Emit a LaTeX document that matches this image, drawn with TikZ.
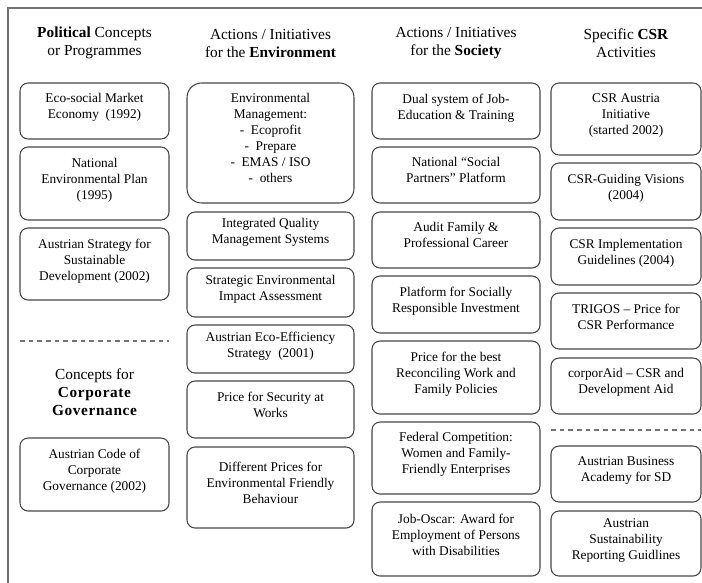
\documentclass[tikz,border=0pt]{standalone}
\usepackage{fontspec}
\setmainfont{Liberation Serif}
\tikzset{
  rbox/.style={draw=black!72, line width=0.8pt, rounded corners=6pt, fill=white,
    align=center, font=\fontsize{10}{12}\selectfont, inner sep=0pt, outer sep=0pt,
    text depth=7pt, anchor=center},
  bigr/.style={rounded corners=11pt},
  head/.style={align=center, font=\fontsize{11.5}{13.5}\selectfont, inner sep=0pt, anchor=center},
  sep/.style={draw=black!55, line width=0.8pt, dash pattern=on 3.5pt off 3pt},
  frame/.style={draw=black!55, line width=1.2pt}
}
\newcommand\mybox[7][]{\node[rbox,#1,minimum width={(#5-#3)*0.75pt},minimum height={(#6-#4)*0.75pt}] (#2) at ({(#3+#5)/2},{(#4+#6)/2}) {#7};}
\begin{document}
\begin{tikzpicture}[x=0.75pt,y=-0.75pt]
\useasboundingbox (0,0) rectangle (702,582);
% frame
\coordinate (fbl) at (8,583);
\coordinate (ftl) at (8,8);
\coordinate (ftr) at (703,8);
\draw[frame] (fbl) -- (ftl) -- (ftr);
% headers
\node[head] (h1) at (94.5,43) {\textbf{Political} Concepts\\or Programmes};
\node[head] (h2) at (270.5,43) {Actions / Initiatives\\for the \textbf{Environment}};
\node[head] (h3) at (456,43) {Actions / Initiatives\\for the \textbf{Society}};
\node[head] (h4) at (626,43) {Specific \textbf{CSR}\\Activities};
% column 1
\mybox{p1}{20}{83}{169}{139}{Eco-social Market\\Economy~~(1992)}
\mybox{p2}{20}{147}{169}{220}{National\\Environmental Plan\\(1995)}
\mybox{p3}{20}{228}{169}{300}{Austrian Strategy for\\Sustainable\\Development (2002)}
\coordinate (d1a) at (20,341);
\coordinate (d1b) at (169,341);
\draw[sep] (d1a) -- (d1b);
\node[head] (cg) at (94.5,392) {Concepts for\\{\bfseries\addfontfeature{LetterSpace=4}Corporate}\\{\bfseries\addfontfeature{LetterSpace=4}Governance}};
\mybox{p4}{20}{438}{169}{511}{Austrian Code of\\Corporate\\Governance (2002)}
% column 2
\mybox[bigr]{e1}{187}{83}{354}{203}{Environmental\\Management:\\-~~Ecoprofit\\-~~Prepare\\-~~EMAS / ISO\\-~~others}
\mybox{e2}{187}{212}{354}{260}{Integrated Quality\\Management Systems}
\mybox{e3}{187}{268}{354}{317}{Strategic Environmental\\Impact Assessment}
\mybox{e4}{187}{325}{354}{373}{Austrian Eco-Efficiency\\Strategy~~(2001)}
\mybox{e5}{187}{381}{354}{438}{Price for Security at\\Works}
\mybox{e6}{187}{447}{354}{528}{Different Prices for\\Environmental Friendly\\Behaviour}
% column 3
\mybox{s1}{372}{83}{540}{139}{Dual system of Job-\\Education \& Training}
\mybox{s2}{372}{147}{540}{203}{National “Social\\Partners” Platform}
\mybox{s3}{372}{212}{540}{268}{Audit Family \&\\Professional Career}
\mybox{s4}{372}{276}{540}{333}{Platform for Socially\\Responsible Investment}
\mybox{s5}{372}{341}{540}{414}{Price for the best\\Reconciling Work and\\Family Policies}
\mybox{s6}{372}{422}{540}{494}{Federal Competition:\\Women and Family-\\Friendly Enterprises}
\mybox{s7}{372}{502}{540}{576}{Job-Oscar: Award for\\Employment of Persons\\with Disabilities}
% column 4
\mybox{c1}{551}{83}{701}{155}{CSR Austria\\Initiative\\(started 2002)}
\mybox{c2}{551}{163}{701}{220}{CSR-Guiding Visions\\(2004)}
\mybox{c3}{551}{228}{701}{285}{CSR Implementation\\Guidelines (2004)}
\mybox{c4}{551}{293}{701}{349}{TRIGOS – Price for\\CSR Performance}
\mybox{c5}{551}{358}{701}{414}{corporAid – CSR and\\Development Aid}
\coordinate (d2a) at (551,430);
\coordinate (d2b) at (701,430);
\draw[sep] (d2a) -- (d2b);
\mybox{c6}{551}{446}{701}{502}{Austrian Business\\Academy for SD}
\mybox{c7}{551}{511}{701}{576}{Austrian\\Sustainability\\Reporting Guidlines}
\end{tikzpicture}
\end{document}
